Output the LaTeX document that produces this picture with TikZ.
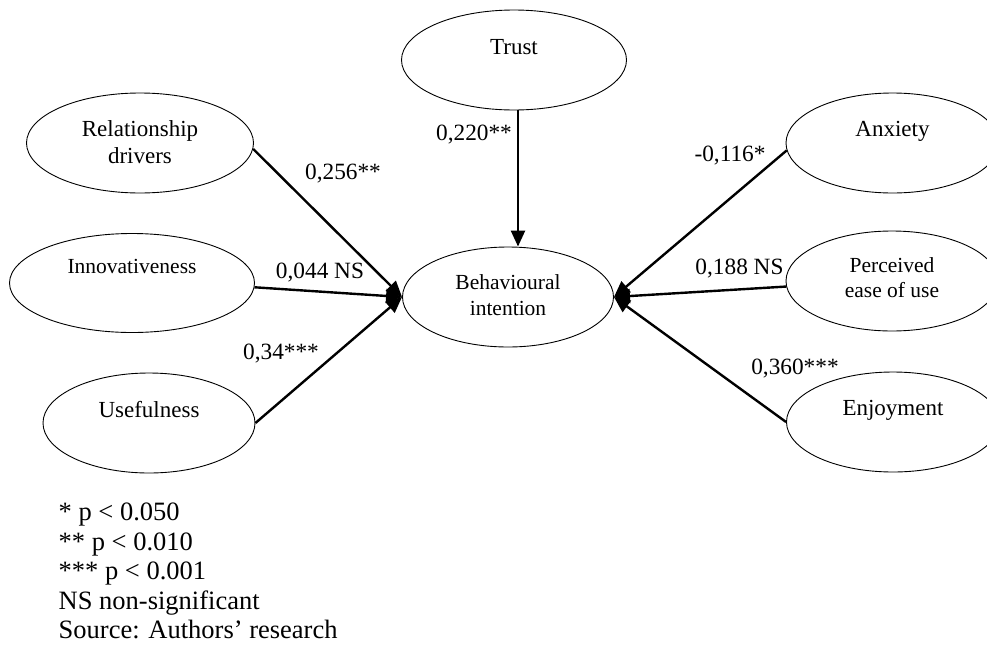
\documentclass[tikz,border=0pt]{standalone}
\usepackage{fontspec}
\setmainfont{Liberation Serif}
\usetikzlibrary{shapes.geometric,arrows.meta}
\begin{document}
\begin{tikzpicture}[x=1pt,y=-1pt,
  ell/.style={draw, ellipse, line width=0.9pt, inner sep=0pt},
  txt/.style={font=\fontsize{23}{27}\selectfont, align=center, inner sep=0pt},
  txtb/.style={font=\fontsize{21.5}{25.5}\selectfont, align=center, inner sep=0pt},
  coef/.style={font=\fontsize{23.3}{27}\selectfont, inner sep=0pt},
  leg/.style={font=\fontsize{26.5}{30}\selectfont, inner sep=0pt, anchor=base west},
  arr/.style={line width=2.4pt, -{Triangle[length=16pt,width=14pt]}}]
\useasboundingbox (0,0) rectangle (987,648);
\clip (0,0) rectangle (987,648);
% ellipses
\node[ell, minimum width=225pt, minimum height=100pt] (trust) at (514,60) {};
\node[ell, minimum width=211pt, minimum height=100pt] (bi) at (508,297) {};
\node[ell, minimum width=227pt, minimum height=100pt] (rd) at (140,143) {};
\node[ell, minimum width=245pt, minimum height=99pt] (inn) at (132,283) {};
\node[ell, minimum width=212pt, minimum height=100pt] (use) at (149,423) {};
\node[ell, minimum width=213pt, minimum height=100pt] (anx) at (892.5,143) {};
\node[ell, minimum width=212pt, minimum height=100pt] (peou) at (892,281) {};
\node[ell, minimum width=213pt, minimum height=100pt] (enj) at (893,422) {};
% texts
\node[txt] (trustT) at (514,47.5) {Trust};
\node[txtb] (biT) at (508,295) {Behavioural\\intention};
\node[txt] (rdT) at (140,142) {Relationship\\drivers};
\node[txtb] (innT) at (132,266.5) {Innovativeness};
\node[txt] (useT) at (149,410) {Usefulness};
\node[txt] (anxT) at (892.5,131) {Anxiety};
\node[txtb] (peouT) at (892,277.5) {Perceived\\ease of use};
\node[txt] (enjT) at (893,410) {Enjoyment};
% arrows
\draw[arr] (rd.-3) -- (bi.west);
\draw[arr] (inn.-2) -- (bi.west);
\draw[arr] (use.east) -- (bi.west);
\draw[arr] (anx.184) -- (bi.east);
\draw[arr] (peou.183) -- (bi.east);
\draw[arr] (enj.west) -- (bi.east);
\path ([xshift=4pt]trust.south) coordinate (ts);
\draw[arr] (ts) -- (ts |- bi.north);
% coefficients
\node[coef] (c1) at (343,173.5) {0,256**};
\node[coef] (c2) at (320,273) {0,044 NS};
\node[coef] (c3) at (281,354) {0,34***};
\node[coef] (c4) at (474,135) {0,220**};
\node[coef] (c5) at (730,156) {-0,116*};
\node[coef] (c6) at (739.5,269) {0,188 NS};
\node[coef] (c7) at (795,369) {0,360***};
% legend
\node[leg] (l1) at (58.5,520.5) {* p < 0.050};
\node[leg] (l2) at (58.5,550) {** p < 0.010};
\node[leg] (l3) at (58.5,579.5) {*** p < 0.001};
\node[leg] (l4) at (58.5,609) {NS non-significant};
\node[leg] (l5) at (58.5,638.5) {Source: Authors’ research};
\end{tikzpicture}
\end{document}
